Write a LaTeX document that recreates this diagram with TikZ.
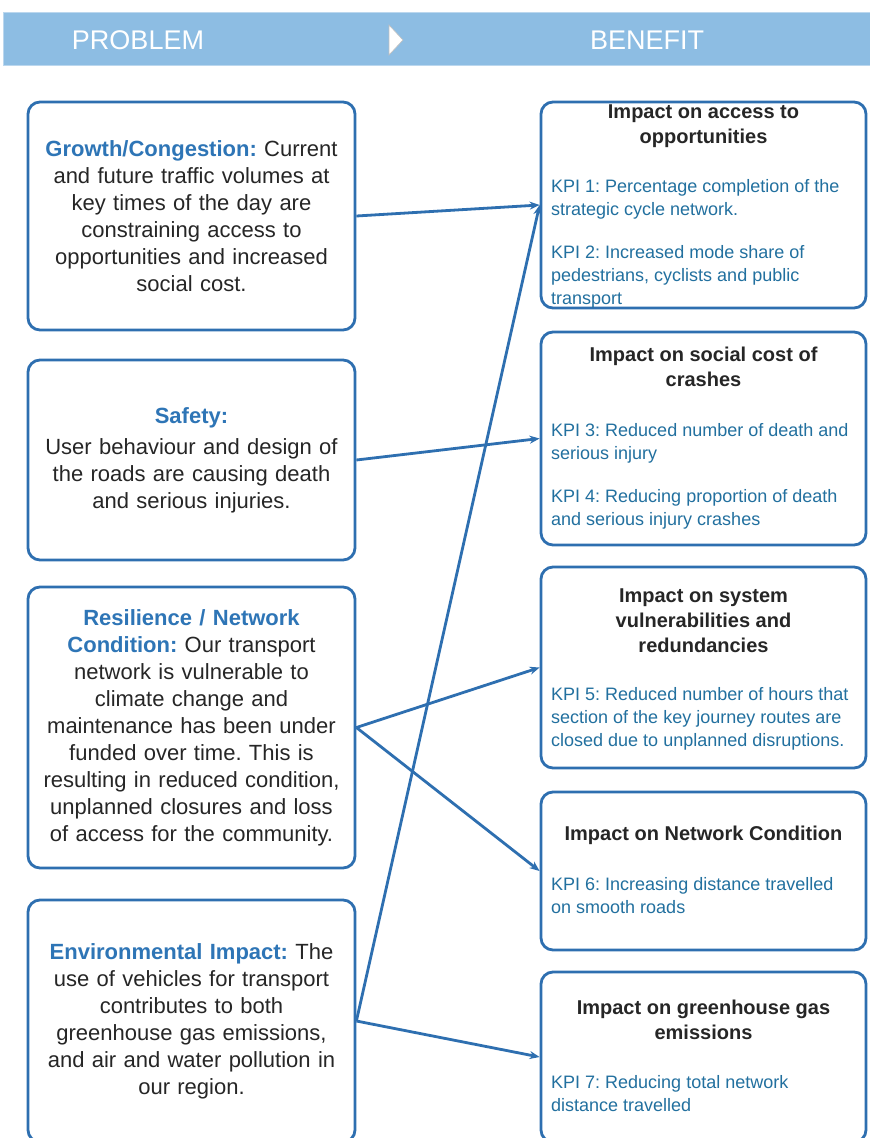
\documentclass[tikz,border=0pt]{standalone}
\usepackage{fontspec}
\setmainfont{Liberation Sans}
\usetikzlibrary{arrows.meta}
\frenchspacing
\definecolor{barblue}{HTML}{8DBDE3}
\definecolor{boxblue}{HTML}{2E6FB0}
\definecolor{headblue}{HTML}{2E75B6}
\definecolor{kpiblue}{HTML}{22709F}
\definecolor{txt}{HTML}{262626}
\newcommand\probhead[1]{{\color{headblue}\bfseries #1}}
\tikzset{
  box/.style={draw=boxblue, line width=2.8pt, rounded corners=12pt, fill=white, inner sep=0pt},
  lbox/.style={box, minimum width=327pt, text width=322pt, align=center,
    font=\fontsize{22}{27}\selectfont, text=txt},
  rbox/.style={box, minimum width=325pt},
  head/.style={anchor=north, align=center, font=\fontsize{20}{25}\selectfont\bfseries, text=txt, inner sep=0pt},
  kpi/.style={anchor=north west, align=left, font=\fontsize{18}{23}\selectfont, text=kpiblue, inner sep=0pt},
  bartext/.style={text=white, font=\fontsize{27}{30}\selectfont, inner sep=0pt},
  link/.style={draw=boxblue, line width=2.8pt, -{Stealth[length=10pt,width=8pt]}},
}
\begin{document}
\begin{tikzpicture}[x=1pt,y=-1pt]
\useasboundingbox (0,0) rectangle (870,1138);
\clip (0,0) rectangle (870,1138);
\fill[white] (0,0) rectangle (870,1138);
% header bar
\filldraw[fill=barblue, draw=barblue!60, line width=0.8pt] (3,12) rectangle (872,65);
\node[bartext] (problem) at (138,40) {PROBLEM};
\node[bartext] (benefit) at (647,40) {BENEFIT};
\filldraw[fill=white, draw=black!25, line width=0.6pt] (389,25) -- (403,40) -- (389,55) -- cycle;
% problem boxes
\node[lbox, minimum height=228pt] (g) at (191.5,216) {\probhead{Growth/Congestion:} Current\\ and future traffic volumes at\\ key times of the day are\\ constraining access to\\ opportunities and increased\\ social cost.};
\node[lbox, minimum height=200pt] (s) at (191.5,460) {\probhead{Safety:}\\[4pt] User behaviour and design of\\ the roads are causing death\\ and serious injuries.};
\node[lbox, minimum height=281pt] (res) at (191.5,727.5) {\probhead{Resilience / Network}\\ \probhead{Condition:} Our transport\\ network is vulnerable to\\ climate change and\\ maintenance has been under\\ funded over time. This is\\ resulting in reduced condition,\\ unplanned closures and loss\\ of access for the community.};
\node[lbox, minimum height=242pt] (env) at (191.5,1021) {\probhead{Environmental Impact:} The\\ use of vehicles for transport\\ contributes to both\\ greenhouse gas emissions,\\ and air and water pollution in\\ our region.};
% benefit boxes
\node[rbox, minimum height=206pt] (r1) at (703.5,205) {};
\node[rbox, minimum height=213pt] (r2) at (703.5,438.5) {};
\node[rbox, minimum height=201pt] (r3) at (703.5,667.5) {};
\node[rbox, minimum height=158pt] (r4) at (703.5,871) {};
\node[rbox, minimum height=170pt] (r5) at (703.5,1057) {};
\node[head] (h1) at (703.5,104.5) {Impact on access to\\ opportunities};
\node[kpi] (k1) at (551,179.5) {KPI 1: Percentage completion of the\\ strategic cycle network.\\[20pt] KPI 2: Increased mode share of\\ pedestrians, cyclists and public\\ transport};
\node[head] (h2) at (703.5,347) {Impact on social cost of\\ crashes};
\node[kpi] (k2) at (551,423.5) {KPI 3: Reduced number of death and\\ serious injury\\[20pt] KPI 4: Reducing proportion of death\\ and serious injury crashes};
\node[head] (h3) at (703.5,589) {Impact on system\\ vulnerabilities and\\ redundancies};
\node[kpi] (k3) at (551,687.5) {KPI 5: Reduced number of hours that\\ section of the key journey routes are\\ closed due to unplanned disruptions.};
\node[head] (h4) at (703.5,826) {Impact on Network Condition};
\node[kpi] (k4) at (551,877.5) {KPI 6: Increasing distance travelled\\ on smooth roads};
\node[head] (h5) at (703.5,1000) {Impact on greenhouse gas\\ emissions};
\node[kpi] (k5) at (551,1075.5) {KPI 7: Reducing total network\\ distance travelled};
% connectors
\draw[link] (g.east) -- (r1.west);
\draw[link] (env.east) -- (r1.west);
\draw[link] (s.east) -- (r2.west);
\draw[link] (res.east) -- (r3.west);
\draw[link] (res.east) -- (r4.west);
\draw[link] (env.east) -- (r5.west);
\end{tikzpicture}
\end{document}
